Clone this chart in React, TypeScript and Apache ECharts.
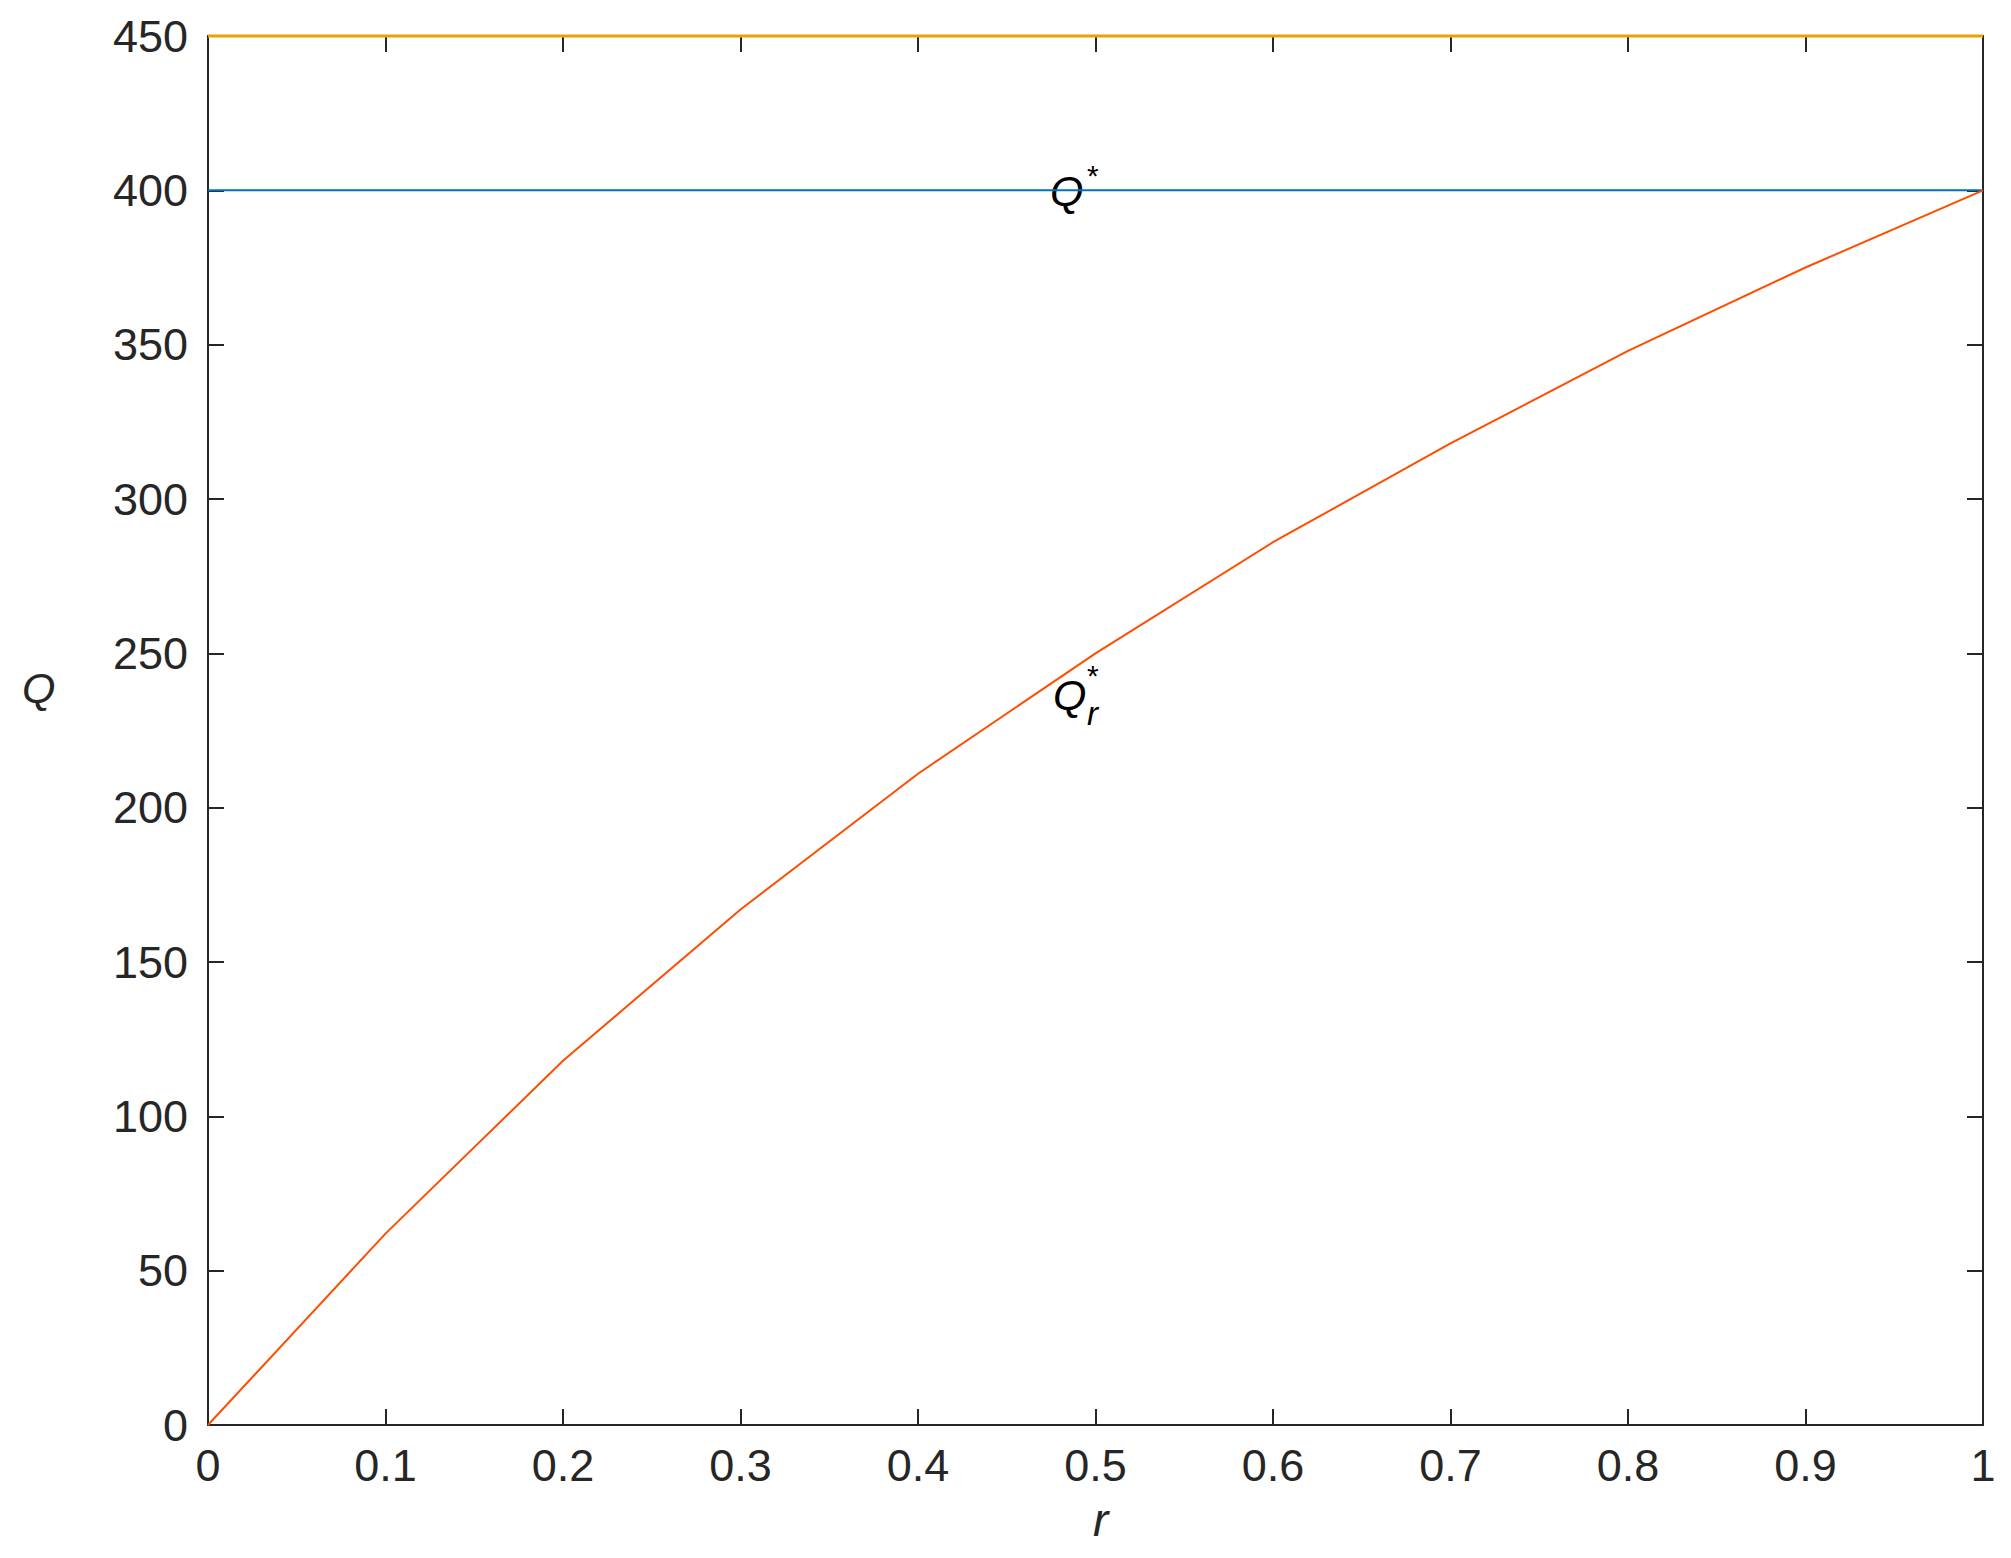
import React, { useEffect, useRef } from "react";
import * as echarts from "echarts";

const rValues = [0, 0.1, 0.2, 0.3, 0.4, 0.5, 0.6, 0.7, 0.8, 0.9, 1];
const qrValues = [0, 62, 118, 167, 211, 250, 286, 318, 348, 375, 400];
const qStar = 400;
const qTop = 450;
const xTicks = ["0", "0.1", "0.2", "0.3", "0.4", "0.5", "0.6", "0.7", "0.8", "0.9", "1"];

const AXIS = "#262626";
const FONT = "Liberation Sans";

export default function App() {
  const ref = useRef<HTMLDivElement>(null);
  useEffect(() => {
    if (!ref.current) return;
    const chart = echarts.init(ref.current, undefined, { renderer: "svg" });
    const axisCommon = {
      axisLine: { show: true, onZero: false, lineStyle: { color: AXIS, width: 2 } },
      axisTick: { show: true, inside: true, length: 16, lineStyle: { color: AXIS, width: 2 } },
      splitLine: { show: false },
    };
    chart.setOption({
      animation: false,
      backgroundColor: "#ffffff",
      grid: { left: 208, right: 28, top: 36, bottom: 133, containLabel: false },
      xAxis: [
        {
          type: "value",
          min: 0,
          max: 1,
          interval: 0.1,
          position: "bottom",
          ...axisCommon,
          axisLabel: {
            color: AXIS,
            fontFamily: FONT,
            fontSize: 45,
            margin: 18,
            formatter: (v: number) => xTicks[Math.round(v * 10)] ?? "",
          },
        },
        {
          type: "value",
          min: 0,
          max: 1,
          interval: 0.1,
          position: "top",
          ...axisCommon,
          axisLabel: { show: false },
        },
      ],
      yAxis: [
        {
          type: "value",
          min: 0,
          max: 450,
          interval: 50,
          position: "left",
          ...axisCommon,
          axisLabel: { color: AXIS, fontFamily: FONT, fontSize: 45, margin: 20 },
        },
        {
          type: "value",
          min: 0,
          max: 450,
          interval: 50,
          position: "right",
          ...axisCommon,
          axisLabel: { show: false },
        },
      ],
      series: [
        {
          type: "line",
          data: [[rValues[0], qStar], [rValues[rValues.length - 1], qStar]],
          showSymbol: false,
          symbol: "none",
          lineStyle: { color: "#0072BD", width: 2 },
          z: 5,
          clip: false,
        },
        {
          type: "line",
          data: rValues.map((r, i) => [r, qrValues[i]]),
          showSymbol: false,
          symbol: "none",
          lineStyle: { color: "#FF4D00", width: 2 },
          z: 5,
          clip: false,
        },
        {
          type: "line",
          data: [[rValues[0], qTop], [rValues[rValues.length - 1], qTop]],
          showSymbol: false,
          symbol: "none",
          lineStyle: { color: "#EDA100", width: 3 },
          z: 10,
          clip: false,
        },
      ],
      graphic: [
        {
          type: "text",
          left: 22,
          top: 666,
          style: { text: "Q", fontFamily: FONT, fontStyle: "italic", fontSize: 43, fill: AXIS },
        },
        {
          type: "text",
          left: 1093,
          top: 1497,
          style: { text: "r", fontFamily: FONT, fontStyle: "italic", fontSize: 46, fill: AXIS },
        },
        {
          type: "text",
          left: 1050,
          top: 169,
          style: { text: "Q", fontFamily: FONT, fontStyle: "italic", fontSize: 43, fill: "#000" },
        },
        {
          type: "text",
          left: 1087,
          top: 160,
          style: { text: "*", fontFamily: FONT, fontSize: 30, fill: "#000" },
        },
        {
          type: "text",
          left: 1053,
          top: 673,
          style: { text: "Q", fontFamily: FONT, fontStyle: "italic", fontSize: 43, fill: "#000" },
        },
        {
          type: "text",
          left: 1087,
          top: 660,
          style: { text: "*", fontFamily: FONT, fontSize: 30, fill: "#000" },
        },
        {
          type: "text",
          left: 1087,
          top: 697,
          style: { text: "r", fontFamily: FONT, fontStyle: "italic", fontSize: 33, fill: "#000" },
        },
      ],
    });
    return () => chart.dispose();
  }, []);
  return (
    <div
      ref={ref}
      style={{ position: "absolute", left: 0, top: 0, width: 2011, height: 1558, background: "#fff" }}
    />
  );
}
